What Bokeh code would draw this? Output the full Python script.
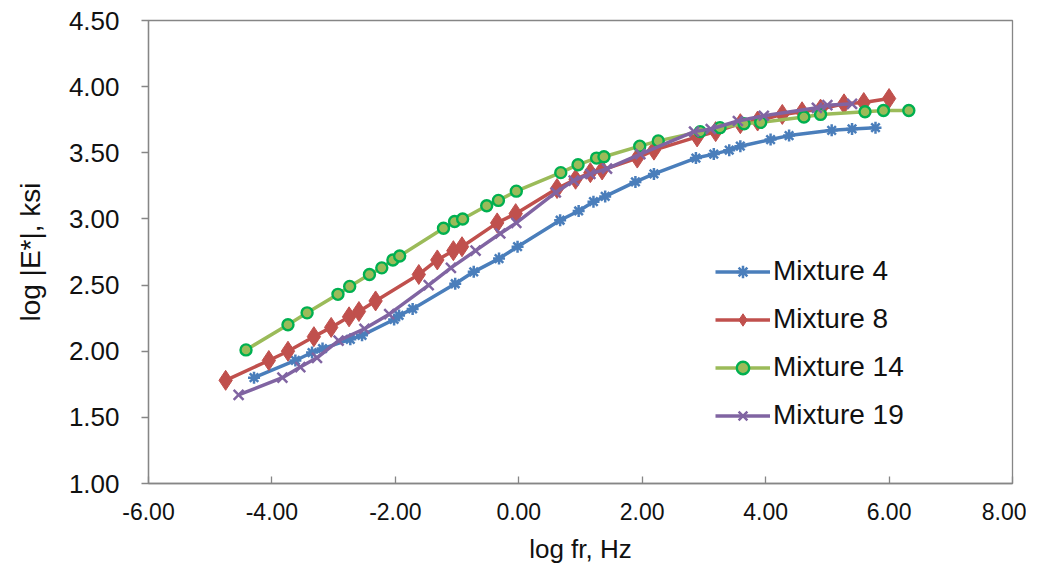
from bokeh.plotting import figure
from bokeh.models import FixedTicker, NumeralTickFormatter, Range1d, Legend, LegendItem
from bokeh.embed import file_html
from bokeh.resources import INLINE

# Mixture 4
m4_x = [-4.29, -3.62, -3.35, -3.18, -2.73, -2.54, -2.02, -1.94, -1.72, -1.03, -0.73, -0.32, -0.02,
        0.67, 0.97, 1.21, 1.40, 1.89, 2.19, 2.87, 3.16, 3.41, 3.59, 4.08, 4.38, 5.07, 5.40, 5.78]
m4_y = [1.80, 1.93, 1.99, 2.02, 2.09, 2.12, 2.24, 2.27, 2.32, 2.51, 2.60, 2.70, 2.79,
        2.99, 3.06, 3.13, 3.17, 3.28, 3.34, 3.46, 3.49, 3.52, 3.55, 3.60, 3.63, 3.67, 3.68, 3.69]
# Mixture 8
m8_x = [-4.75, -4.05, -3.74, -3.32, -3.04, -2.75, -2.59, -2.32, -1.62, -1.32, -1.06, -0.92, -0.35, -0.05,
        0.62, 0.92, 1.16, 1.35, 1.92, 2.19, 2.89, 3.19, 3.59, 3.87, 4.27, 4.59, 4.89, 5.27, 5.59, 6.00]
m8_y = [1.78, 1.93, 2.00, 2.11, 2.18, 2.26, 2.30, 2.38, 2.58, 2.69, 2.76, 2.79, 2.97, 3.04,
        3.23, 3.30, 3.35, 3.37, 3.46, 3.52, 3.62, 3.66, 3.72, 3.74, 3.79, 3.81, 3.83, 3.87, 3.88, 3.91]
# Mixture 14
m14_x = [-4.42, -3.74, -3.43, -2.93, -2.74, -2.42, -2.22, -2.04, -1.93, -1.22, -1.04, -0.91, -0.52, -0.33,
         -0.04, 0.68, 0.96, 1.26, 1.38, 1.96, 2.26, 2.94, 3.26, 3.65, 3.92, 4.62, 4.89, 5.61, 5.91, 6.32]
m14_y = [2.01, 2.20, 2.29, 2.43, 2.49, 2.58, 2.63, 2.69, 2.72, 2.93, 2.98, 3.00, 3.10, 3.14,
         3.21, 3.35, 3.41, 3.46, 3.47, 3.55, 3.59, 3.66, 3.69, 3.72, 3.73, 3.77, 3.79, 3.81, 3.82, 3.82]
# Mixture 19
m19_x = [-4.54, -3.83, -3.54, -3.27, -2.92, -2.50, -2.10, -1.46, -1.10, -0.70, -0.30, -0.04,
         0.60, 0.89, 1.16, 1.43, 1.97, 2.84, 3.11, 3.55, 3.97, 4.83, 5.00, 5.40]
m19_y = [1.67, 1.80, 1.88, 1.95, 2.08, 2.17, 2.28, 2.50, 2.63, 2.76, 2.89, 2.97,
         3.20, 3.29, 3.34, 3.38, 3.49, 3.66, 3.68, 3.74, 3.78, 3.84, 3.86, 3.87]

x_ticks = [-6, -4, -2, 0, 2, 4, 6, 8]
y_ticks = [1.0, 1.5, 2.0, 2.5, 3.0, 3.5, 4.0, 4.5]

FONT = "Liberation Sans"

p = figure(width=1026, height=571, output_backend="svg", toolbar_location=None,
           x_range=Range1d(-6, 8), y_range=Range1d(1, 4.5))
p.min_border_left = 148
p.min_border_right = 14
p.min_border_top = 20
p.min_border_bottom = 88
p.xgrid.visible = False
p.ygrid.visible = False
p.outline_line_color = "#868686"
p.outline_line_width = 1.3
p.background_fill_color = "white"
p.border_fill_color = "white"

for ax in (p.xaxis[0], p.yaxis[0]):
    ax.axis_line_color = "#868686"
    ax.axis_line_width = 1.3
    ax.major_tick_line_color = "#868686"
    ax.major_tick_line_width = 1.3
    ax.minor_tick_line_color = None
    ax.major_label_text_font = FONT
    ax.major_label_text_color = "#111111"
    ax.axis_label_text_font = FONT
    ax.axis_label_text_font_style = "normal"
    ax.axis_label_text_color = "#111111"
    ax.formatter = NumeralTickFormatter(format="0.00")

p.xaxis.major_label_text_font_size = "23px"
p.yaxis.major_label_text_font_size = "26px"
p.xaxis.axis_label_text_font_size = "26px"
p.yaxis.axis_label_text_font_size = "28px"
p.xaxis.ticker = FixedTicker(ticks=x_ticks)
p.yaxis.ticker = FixedTicker(ticks=y_ticks)
p.xaxis.major_tick_in = 7
p.xaxis.major_tick_out = 0
p.yaxis.major_tick_in = 0
p.yaxis.major_tick_out = 7
p.xaxis.major_label_standoff = 19
p.yaxis.major_label_standoff = 22
p.xaxis.axis_label = "log fr, Hz"
p.yaxis.axis_label = "log |E*|, ksi"
p.xaxis.axis_label_standoff = 11
p.yaxis.axis_label_standoff = 20

LW = 3.5
c4, c8, c14, c19 = "#4A7EBB", "#C0504D", "#9BBB59", "#8064A2"

l4 = p.line(m4_x, m4_y, line_color=c4, line_width=LW)
s4 = p.scatter(m4_x, m4_y, marker="asterisk", size=12, line_color=c4, line_width=2.5)
l8 = p.line(m8_x, m8_y, line_color=c8, line_width=LW)
s8 = p.scatter(m8_x, m8_y, marker="diamond", size=20, fill_color=c8, line_color=c8)
l14 = p.line(m14_x, m14_y, line_color=c14, line_width=LW)
s14 = p.scatter(m14_x, m14_y, marker="circle", size=11, fill_color=c14, line_color="#00B050", line_width=2.4)
l19 = p.line(m19_x, m19_y, line_color=c19, line_width=LW)
s19 = p.scatter(m19_x, m19_y, marker="x", size=14, line_color=c19, line_width=2.5)

legend = Legend(items=[
    LegendItem(label="Mixture 4", renderers=[l4, s4]),
    LegendItem(label="Mixture 8", renderers=[l8, s8]),
    LegendItem(label="Mixture 14", renderers=[l14, s14]),
    LegendItem(label="Mixture 19", renderers=[l19, s19]),
], location=(567, 52))
legend.background_fill_alpha = 0
legend.border_line_color = None
legend.label_text_font = FONT
legend.label_text_font_size = "28px"
legend.label_text_color = "#111111"
legend.glyph_width = 55
legend.glyph_height = 31
legend.label_height = 31
legend.spacing = 16
legend.label_standoff = 3
legend.padding = 0
legend.margin = 0
p.add_layout(legend, "center")

open("out.html", "w").write(file_html(p, INLINE))
